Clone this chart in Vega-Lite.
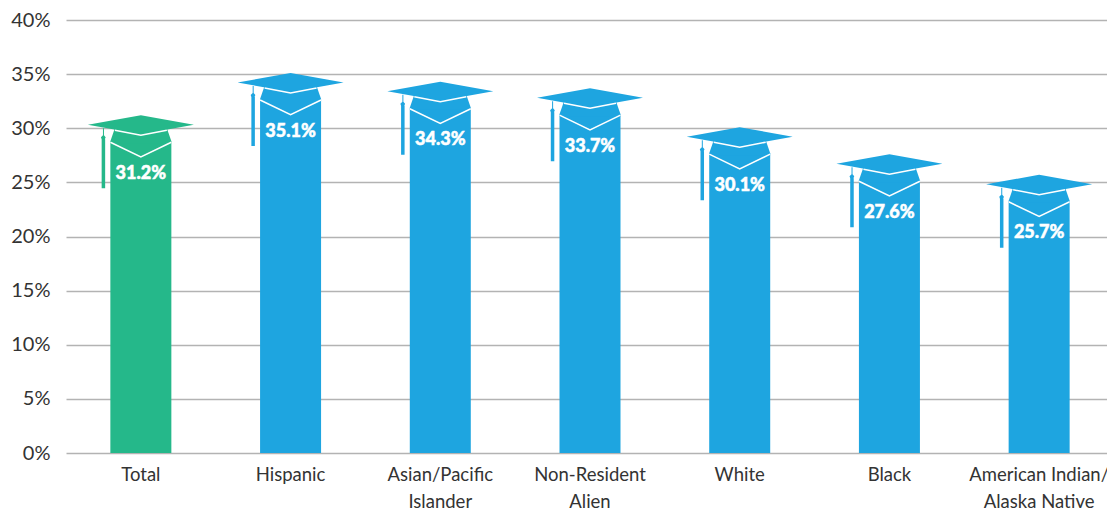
{
"$schema":"https://vega.github.io/schema/vega-lite/v6.json",
"width":1040,"height":433,
"autosize":{"type":"none"},
"padding":{"left":67,"top":20,"right":0,"bottom":57},
"background":"white",
"data":{"values":[
{"group":"Total","value":31.2,"kind":"total","label":"31.2%"},
{"group":"Hispanic","value":35.1,"kind":"race","label":"35.1%"},
{"group":"Asian/Pacific Islander","value":34.3,"kind":"race","label":"34.3%"},
{"group":"Non-Resident Alien","value":33.7,"kind":"race","label":"33.7%"},
{"group":"White","value":30.1,"kind":"race","label":"30.1%"},
{"group":"Black","value":27.6,"kind":"race","label":"27.6%"},
{"group":"American Indian/ Alaska Native","value":25.7,"kind":"race","label":"25.7%"}
]},
"encoding":{
"x":{"field":"group","type":"nominal","sort":null,"title":null,
"scale":{"type":"band","range":[-1,1047],"paddingInner":0,"paddingOuter":0},
"axis":{"domain":false,"ticks":false,"grid":false,"labelAngle":0,"labelFont":"Lato","labelFontSize":18.5,"labelColor":"#333333","labelPadding":12.5,"labelLineHeight":26.5,"labelOverlap":false,"labelBound":false,"labelFlush":false,"labelLimit":300,
"labelExpr":"datum.label=='Asian/Pacific Islander'?['Asian/Pacific','Islander']:datum.label=='Non-Resident Alien'?['Non-Resident','Alien']:datum.label=='American Indian/ Alaska Native'?['American Indian/','Alaska Native']:datum.label"}},
"y":{"field":"value","type":"quantitative","title":null,
"scale":{"domain":[0,40],"nice":false},
"axis":{"domain":false,"ticks":false,"grid":true,"gridColor":"#b3b3b3","gridWidth":1.6,"values":[0,5,10,15,20,25,30,35,40],"labelExpr":"datum.value+'%'","labelFont":"Lato","labelFontSize":20,"labelColor":"#333333","labelPadding":17}},
"color":{"field":"kind","type":"nominal","legend":null,"scale":{"domain":["total","race"],"range":["#25B88A","#1EA5E0"]}}
},
"layer":[
{"mark":{"type":"bar","width":61,"yOffset":27,"y2Offset":0},"encoding":{"y2":{"datum":0}}},
{"mark":{"type":"point","filled":true,"opacity":1,"size":4,"strokeWidth":0,"shape":"M-26 13 L26 13 L30.5 26 L30.5 28 L-30.5 28 L-30.5 26 Z"}},
{"mark":{"type":"point","filled":true,"opacity":1,"size":4,"strokeWidth":0,"shape":"M0 0 L53 9.5 L0 19 L-53 9.5 Z"}},
{"mark":{"type":"point","filled":true,"opacity":1,"size":4,"strokeWidth":0,"shape":"M-37.9 13 L-36.9 13 L-36.9 20 L-35.2 22 L-36 24 L-35.7 24 L-35.7 73 L-39.2 73 L-39.2 24 L-39.9 22 L-37.9 20 Z"}},
{"mark":{"type":"point","filled":false,"opacity":1,"size":4,"strokeWidth":1.5,"stroke":"white","shape":"M-30.5 27 L0 41.7 L30.5 27 M-26 15 L0 20 L26 15"},"encoding":{"color":{"value":"white"}}},
{"mark":{"type":"text","font":"Lato","fontWeight":900,"fontSize":18,"color":"white","stroke":"white","strokeWidth":0.5,"yOffset":58.5,"baseline":"middle"},"encoding":{"text":{"field":"label"},"color":{"value":"white"}}}
],
"config":{"view":{"stroke":null}}
}
